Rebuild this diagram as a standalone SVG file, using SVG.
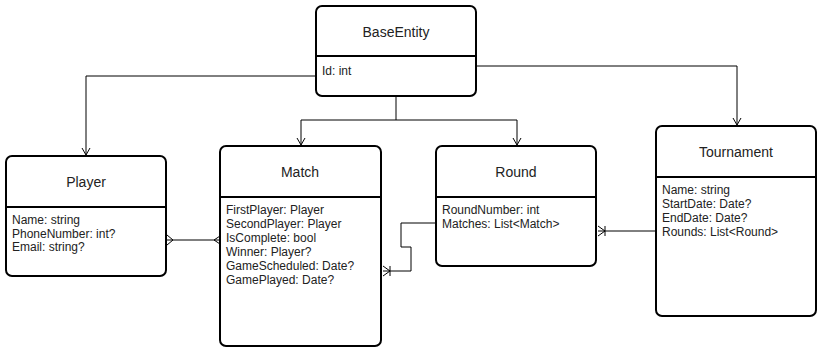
<svg xmlns="http://www.w3.org/2000/svg" width="822" height="352" viewBox="0 0 822 352">
  <style>
    .box { fill: #ffffff; stroke: #000000; stroke-width: 2; }
    .div { stroke: #000000; stroke-width: 2; }
    .title { font-family: "Liberation Sans", Arial, sans-serif; font-size: 14px; fill: #222222; text-anchor: middle; }
    .attr { font-family: "Liberation Sans", Arial, sans-serif; font-size: 12px; fill: #222222; }
    .edge { fill: none; stroke: #000000; stroke-width: 1; }
  </style>
  <defs>
    <marker id="open" markerWidth="12" markerHeight="12" refX="10" refY="6" orient="auto" markerUnits="userSpaceOnUse">
      <path d="M3,2 L10,6 L3,10" fill="none" stroke="#000" stroke-width="1"/>
    </marker>
  </defs>

  <rect width="822" height="352" fill="#ffffff"/>

  <!-- connectors -->
  <g id="connectors">
    <!-- inheritance from BaseEntity -->
    <path class="edge" d="M316,76 H86 V155" marker-end="url(#open)"/>
    <path class="edge" d="M476,66 H737 V125" marker-end="url(#open)"/>
    <path class="edge" d="M396,97 V120"/>
    <path class="edge" d="M301,120 H517"/>
    <path class="edge" d="M301,120 V145" marker-end="url(#open)"/>
    <path class="edge" d="M517,120 V145" marker-end="url(#open)"/>

    <!-- Player many — many Match -->
    <path class="edge" d="M167,240 H219"/>
    <path class="edge" d="M167,235 L173,240 L167,245"/>
    <path class="edge" d="M220,236 L214,240 L220,244"/>

    <!-- Round — Match (one or many) -->
    <path class="edge" d="M435,223 H401 V247 H411 V271 H383"/>
    <path class="edge" d="M383,266 L390,271 L383,276"/>
    <line class="edge" x1="390" y1="266" x2="390" y2="276"/>

    <!-- Tournament — Round (one or many) -->
    <path class="edge" d="M655,231 H598"/>
    <path class="edge" d="M598,226 L605,231 L598,236"/>
    <line class="edge" x1="605" y1="226" x2="605" y2="236"/>
  </g>

  <g id="BaseEntity">
    <rect class="box" x="316" y="6" width="160" height="90" rx="6"/>
    <line class="div" x1="316" y1="56" x2="476" y2="56"/>
    <text class="title" x="396" y="37">BaseEntity</text>
    <text class="attr" x="322" y="75">Id: int</text>
  </g>

  <g id="Player">
    <rect class="box" x="6" y="156" width="160" height="120" rx="6"/>
    <line class="div" x1="6" y1="207" x2="166" y2="207"/>
    <text class="title" x="86" y="187">Player</text>
    <text class="attr" x="12" y="224">Name: string</text>
    <text class="attr" x="12" y="238">PhoneNumber: int?</text>
    <text class="attr" x="12" y="251">Email: string?</text>
  </g>

  <g id="Match">
    <rect class="box" x="220" y="146" width="161" height="200" rx="6"/>
    <line class="div" x1="220" y1="197" x2="381" y2="197"/>
    <text class="title" x="300" y="177">Match</text>
    <text class="attr" x="226" y="214">FirstPlayer: Player</text>
    <text class="attr" x="226" y="228">SecondPlayer: Player</text>
    <text class="attr" x="226" y="242">IsComplete: bool</text>
    <text class="attr" x="226" y="256">Winner: Player?</text>
    <text class="attr" x="226" y="270">GameScheduled: Date?</text>
    <text class="attr" x="226" y="284">GamePlayed: Date?</text>
  </g>

  <g id="Round">
    <rect class="box" x="436" y="146" width="160" height="120" rx="6"/>
    <line class="div" x1="436" y1="197" x2="596" y2="197"/>
    <text class="title" x="516" y="177">Round</text>
    <text class="attr" x="442" y="214">RoundNumber: int</text>
    <text class="attr" x="442" y="228">Matches: List&lt;Match&gt;</text>
  </g>

  <g id="Tournament">
    <rect class="box" x="656" y="126" width="160" height="190" rx="6"/>
    <line class="div" x1="656" y1="177" x2="816" y2="177"/>
    <text class="title" x="736" y="157">Tournament</text>
    <text class="attr" x="662" y="194">Name: string</text>
    <text class="attr" x="662" y="208">StartDate: Date?</text>
    <text class="attr" x="662" y="222">EndDate: Date?</text>
    <text class="attr" x="662" y="236">Rounds: List&lt;Round&gt;</text>
  </g>
</svg>
